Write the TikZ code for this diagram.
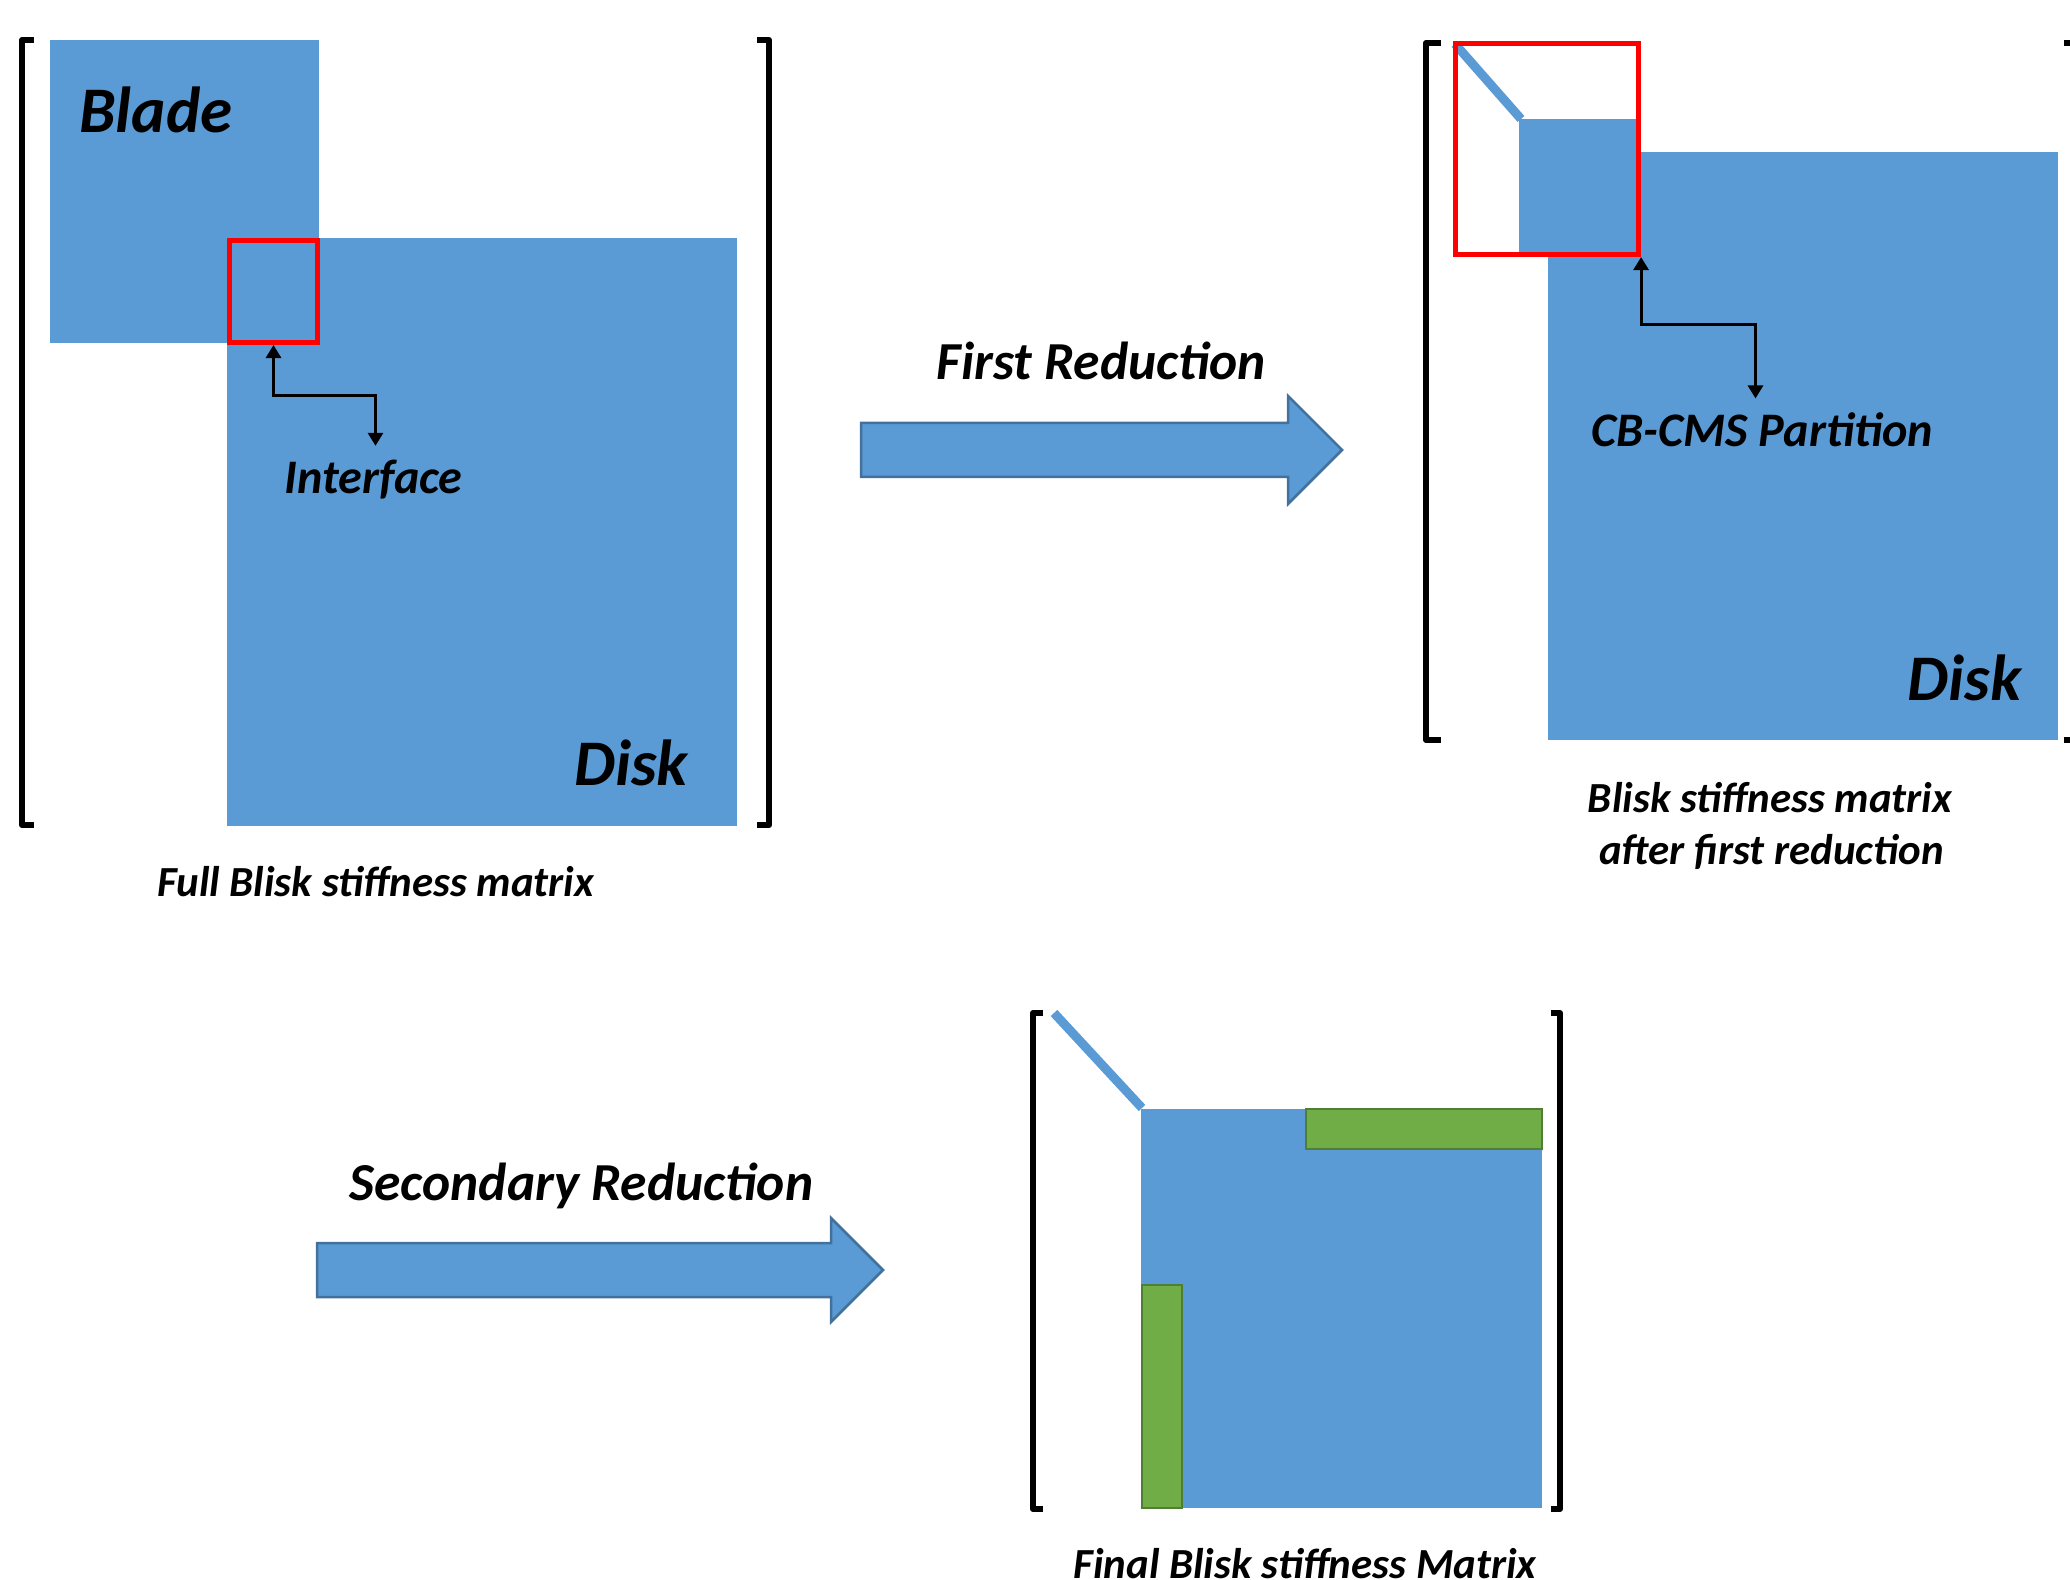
\documentclass[tikz,border=0pt]{standalone}
\usepackage{fontspec}
\setmainfont{Carlito}
\usetikzlibrary{arrows.meta}
\definecolor{matblue}{HTML}{5B9BD5}
\definecolor{arrowedge}{HTML}{41719C}
\definecolor{subgreen}{HTML}{70AD47}
\definecolor{greenedge}{HTML}{507E32}

\begin{document}
\begin{tikzpicture}[x=0.01cm,y=-0.01cm,>={Triangle[width=0.15cm,length=0.13cm]}]
  \tikzstyle{block}=[fill=matblue]
  \tikzstyle{bracket}=[line width=0.06cm,line join=round]
  \tikzstyle{redbox}=[rectangle,draw=red,line width=0.05cm,inner sep=0pt]
  \tikzstyle{subblock}=[fill=subgreen,draw=greenedge,line width=0.025cm]
  \tikzstyle{diag}=[draw=matblue,line width=0.09cm]
  \tikzstyle{bigarrow}=[fill=matblue,draw=arrowedge,line width=0.025cm]
  \tikzstyle{conn}=[<->,line width=0.03cm]
  \tikzstyle{big}=[inner sep=0pt,anchor=base,font=\fontsize{18.5}{22}\selectfont\bfseries\itshape]
  \tikzstyle{mid}=[inner sep=0pt,anchor=base,font=\fontsize{13.7}{16}\selectfont\bfseries\itshape]
  \tikzstyle{step label}=[inner sep=0pt,anchor=base,font=\fontsize{15.2}{18}\selectfont\bfseries\itshape]
  \tikzstyle{small}=[inner sep=0pt,anchor=base,font=\fontsize{12.2}{14.8}\selectfont\bfseries\itshape]

  \useasboundingbox (0,0) rectangle (2070,1580);
  \clip (0,0) rectangle (2070,1580);

  % full matrix
  \draw[bracket] (34,40) -- (22,40) -- (22,825) -- (34,825);
  \draw[bracket] (757,40) -- (769,40) -- (769,825) -- (757,825);
  \fill[block] (50,40) rectangle (319,343);
  \fill[block] (227,238) rectangle (737,826);
  \node[redbox,minimum width=0.88cm,minimum height=1.02cm] (rb1) at (273.5,291.5) {};
  \node[big] (blade) at (156,133) {Blade};
  \node[big] (disk1) at (631,786) {Disk};
  \node[mid] (iface) at (373.5,494) {Interface};
  \node[small] (cap1) at (375.5,897) {Full Blisk stiffness matrix};
  \draw[conn] (rb1.south) -- ++(0,50) -| ([xshift=0.02cm,yshift=0.14cm]iface.north);

  % first reduction
  \filldraw[bigarrow] (861,423) -- (1288,423) -- (1288,396) -- (1342,450)
    -- (1288,504) -- (1288,477) -- (861,477) -- cycle;
  \node[step label] (first) at (1101.5,380) {First Reduction};

  % after first reduction
  \draw[bracket] (1441,43) -- (1426,43) -- (1426,740) -- (1441,740);
  \draw[bracket] (2064,43) -- (2076,43) -- (2076,740) -- (2064,740);
  \fill[block] (1519,119) rectangle (1640,255);
  \fill[block] (1548,152) rectangle (2058,740);
  \draw[diag] (1455,44) -- (1521,119);
  \node[redbox,minimum width=1.83cm,minimum height=2.11cm] (rb2) at (1547,149) {};
  \node[mid] (cbcms) at (1762.5,447) {CB-CMS Partition};
  \node[big] (disk2) at (1964.5,701) {Disk};
  \node[small] (cap2a) at (1770,813) {Blisk stiffness matrix};
  \node[small] (cap2b) at (1771.5,865) {after first reduction};
  \draw[conn] (rb2.south east) -- ++(0,67) -| ([xshift=-0.07cm,yshift=0.14cm]cbcms.north);

  % secondary reduction
  \filldraw[bigarrow] (317,1243) -- (831,1243) -- (831,1218) -- (883,1270)
    -- (831,1322) -- (831,1297) -- (317,1297) -- cycle;
  \node[step label] (second) at (581.5,1200) {Secondary Reduction};

  % final matrix
  \draw[bracket] (1043,1013) -- (1033,1013) -- (1033,1509) -- (1043,1509);
  \draw[bracket] (1551,1013) -- (1560,1013) -- (1560,1509) -- (1551,1509);
  \fill[block] (1141,1109) rectangle (1542,1508);
  \draw[diag] (1054,1013) -- (1142,1108);
  \draw[subblock] (1306,1109) rectangle (1542,1149);
  \draw[subblock] (1142,1285) rectangle (1182,1508);
  \node[small] (cap3) at (1305,1578) {Final Blisk stiffness Matrix};
\end{tikzpicture}
\end{document}
